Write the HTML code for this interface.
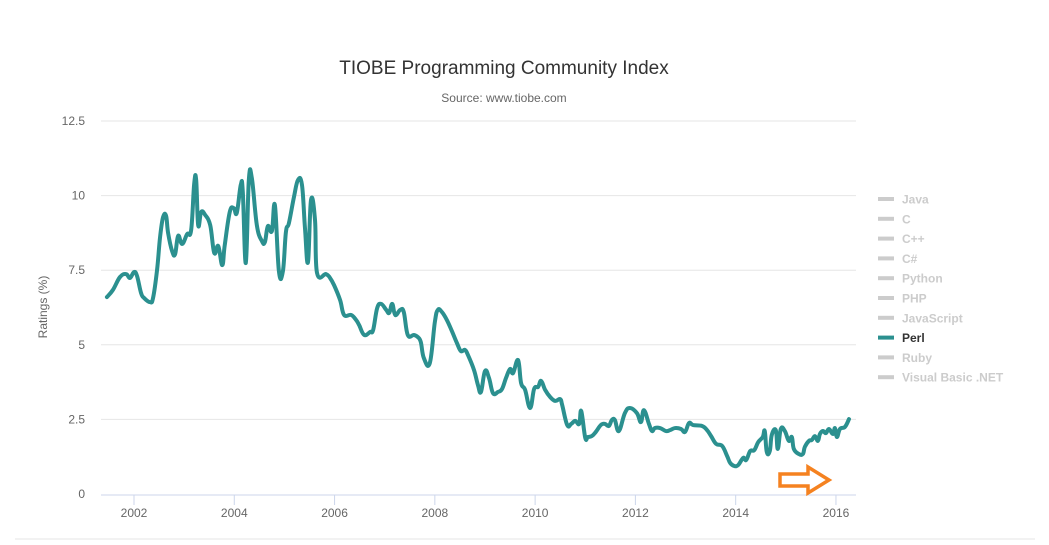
<!DOCTYPE html>
<html><head><meta charset="utf-8"><style>
body{margin:0;background:#fff;width:1049px;height:540px;overflow:hidden;font-family:"Liberation Sans","DejaVu Sans",sans-serif}
svg text{font-family:"Liberation Sans","DejaVu Sans",sans-serif}
</style></head><body>
<svg id="chart" width="1049" height="540" xmlns="http://www.w3.org/2000/svg">
<text x="504" y="74" text-anchor="middle" font-size="19" fill="#333">TIOBE Programming Community Index</text>
<text x="504" y="102" text-anchor="middle" font-size="12" fill="#666">Source: www.tiobe.com</text>
<text transform="translate(47,307) rotate(-90)" text-anchor="middle" font-size="12" fill="#666">Ratings (%)</text>
<g id="grid"></g><g id="xaxis"></g><g id="series"></g><g id="legend"></g>
<line x1="15" y1="539" x2="1035" y2="539" stroke="#e6e6e6"/>
<path d="M780,474 L808,474 L808,467 L829,480 L808,493 L808,486 L780,486 Z" fill="none" stroke="#f58220" stroke-width="3.5"/>
</svg>
<script>
const years=[2001.46,2001.58,2001.72,2001.84,2001.92,2002.00,2002.06,2002.14,2002.20,2002.32,2002.38,2002.46,2002.52,2002.58,2002.64,2002.68,2002.76,2002.82,2002.88,2002.96,2003.06,2003.14,2003.20,2003.24,2003.28,2003.34,2003.42,2003.52,2003.60,2003.68,2003.76,2003.81,2003.91,2003.99,2004.05,2004.13,2004.17,2004.23,2004.29,2004.35,2004.45,2004.55,2004.61,2004.67,2004.75,2004.81,2004.89,2004.97,2005.03,2005.09,2005.19,2005.27,2005.35,2005.41,2005.47,2005.53,2005.61,2005.65,2005.83,2005.91,2005.99,2006.11,2006.19,2006.33,2006.43,2006.49,2006.59,2006.71,2006.77,2006.85,2006.93,2007.03,2007.09,2007.15,2007.21,2007.31,2007.38,2007.46,2007.58,2007.66,2007.72,2007.78,2007.90,2008.00,2008.06,2008.14,2008.24,2008.34,2008.44,2008.52,2008.60,2008.66,2008.78,2008.86,2008.92,2009.00,2009.08,2009.16,2009.26,2009.34,2009.42,2009.50,2009.56,2009.66,2009.72,2009.80,2009.90,2009.98,2010.06,2010.12,2010.20,2010.30,2010.40,2010.50,2010.54,2010.64,2010.72,2010.80,2010.88,2010.92,2011.00,2011.05,2011.13,2011.21,2011.31,2011.39,2011.47,2011.53,2011.59,2011.67,2011.79,2011.89,2012.03,2012.11,2012.17,2012.27,2012.33,2012.39,2012.49,2012.61,2012.69,2012.79,2012.91,2012.99,2013.07,2013.15,2013.33,2013.43,2013.51,2013.61,2013.73,2013.83,2013.89,2013.97,2014.05,2014.15,2014.21,2014.29,2014.37,2014.45,2014.54,2014.58,2014.62,2014.68,2014.72,2014.80,2014.84,2014.90,2014.98,2015.06,2015.12,2015.16,2015.26,2015.34,2015.38,2015.46,2015.52,2015.58,2015.64,2015.68,2015.74,2015.80,2015.86,2015.94,2015.98,2016.02,2016.08,2016.18,2016.26];
const perl=[6.60,6.84,7.27,7.37,7.24,7.44,7.31,6.74,6.57,6.43,6.57,7.51,8.61,9.28,9.32,8.75,8.14,8.04,8.65,8.38,8.71,8.85,10.39,10.52,9.01,9.45,9.35,9.01,8.08,8.31,7.67,8.34,9.45,9.58,9.42,10.36,10.12,7.74,10.52,10.59,9.01,8.48,8.44,8.98,8.81,9.68,7.47,7.47,8.78,9.08,9.95,10.52,10.36,8.91,7.77,9.85,9.18,7.41,7.37,7.24,7.00,6.50,6.00,6.00,5.83,5.66,5.33,5.43,5.50,6.23,6.37,6.17,6.07,6.37,6.00,6.17,6.10,5.33,5.33,5.26,5.09,4.56,4.39,5.76,6.17,6.10,5.83,5.46,5.06,4.79,4.83,4.66,4.16,3.65,3.42,4.12,3.89,3.38,3.42,3.52,3.89,4.19,4.05,4.49,3.72,3.49,2.88,3.52,3.59,3.79,3.49,3.25,3.12,3.18,2.98,2.31,2.35,2.45,2.35,2.78,1.88,1.91,1.94,2.08,2.31,2.35,2.28,2.48,2.48,2.11,2.71,2.88,2.71,2.41,2.81,2.35,2.11,2.21,2.21,2.11,2.14,2.21,2.18,2.08,2.38,2.31,2.28,2.14,1.94,1.68,1.61,1.27,1.04,0.94,0.97,1.21,1.14,1.44,1.47,1.74,1.91,2.11,1.41,1.44,1.98,2.14,1.51,2.18,2.11,1.78,1.91,1.51,1.34,1.34,1.58,1.78,1.81,1.94,1.78,2.01,2.11,2.04,2.18,2.01,2.21,1.91,2.18,2.25,2.51];
const yTicks=[0,2.5,5,7.5,10,12.5];
const yTickLabels=["0","2.5","5","7.5","10","12.5"];
const xTicks=[2002,2004,2006,2008,2010,2012,2014,2016];
const legendNames=["Java","C","C++","C#","Python","PHP","JavaScript","Perl","Ruby","Visual Basic .NET"];
const activeSeries="Perl";

const NS="http://www.w3.org/2000/svg";
const X=y=>134+(y-2002)*50.14;
const Y=v=>494-v*29.84;
function mk(tag,attrs,parent,text){const e=document.createElementNS(NS,tag);for(const k in attrs)e.setAttribute(k,attrs[k]);if(text!==undefined)e.textContent=text;parent.appendChild(e);return e;}
const grid=document.getElementById('grid');
yTicks.forEach((t,i)=>{
  if(i>0){const l=mk('line',{x1:101,x2:856,y1:Y(t),y2:Y(t),stroke:'#e6e6e6'},grid);
  
  }
  const tx=mk('text',{x:85,y:Y(t)+4,'text-anchor':'end','font-size':12,fill:'#666'},grid,yTickLabels[i]);
  
  
});
const xa=document.getElementById('xaxis');
const al=mk('line',{x1:101,x2:856,y1:495,y2:495,stroke:'#ccd6eb'},xa);


xTicks.forEach(t=>{
  const tk=mk('line',{x1:X(t),x2:X(t),y1:495,y2:505,stroke:'#ccd6eb'},xa);
  
  
  const tx=mk('text',{x:X(t),y:517,'text-anchor':'middle','font-size':12,fill:'#666'},xa,String(t));
  
  
});
const pts=years.map((y,i)=>[X(y),Y(perl[i])]);
let d='M'+pts[0][0]+','+pts[0][1];
for(let i=0;i<pts.length-1;i++){
  const p0=pts[Math.max(0,i-1)],p1=pts[i],p2=pts[i+1],p3=pts[Math.min(pts.length-1,i+2)];
  const t=0.2;
  d+=` C${p1[0]+(p2[0]-p0[0])*t},${p1[1]+(p2[1]-p0[1])*t} ${p2[0]-(p3[0]-p1[0])*t},${p2[1]-(p3[1]-p1[1])*t} ${p2[0]},${p2[1]}`;
}
const line=mk('path',{d:d,fill:'none',stroke:'#2b908f','stroke-width':4,'stroke-linejoin':'round','stroke-linecap':'round'},document.getElementById('series'));


const lg=document.getElementById('legend');
legendNames.forEach((n,i)=>{
  const y=199+i*19.8;const on=n===activeSeries;
  const g=mk('g',{},lg);
  
  
  mk('line',{x1:878,x2:894,y1:y,y2:y,stroke:on?'#2b908f':'#cccccc','stroke-width':4},g);
  mk('text',{x:902,y:y+4.5,'font-size':12,'font-weight':'bold',fill:on?'#333':'#cccccc'},g,n);
});
</script>
</body></html>
